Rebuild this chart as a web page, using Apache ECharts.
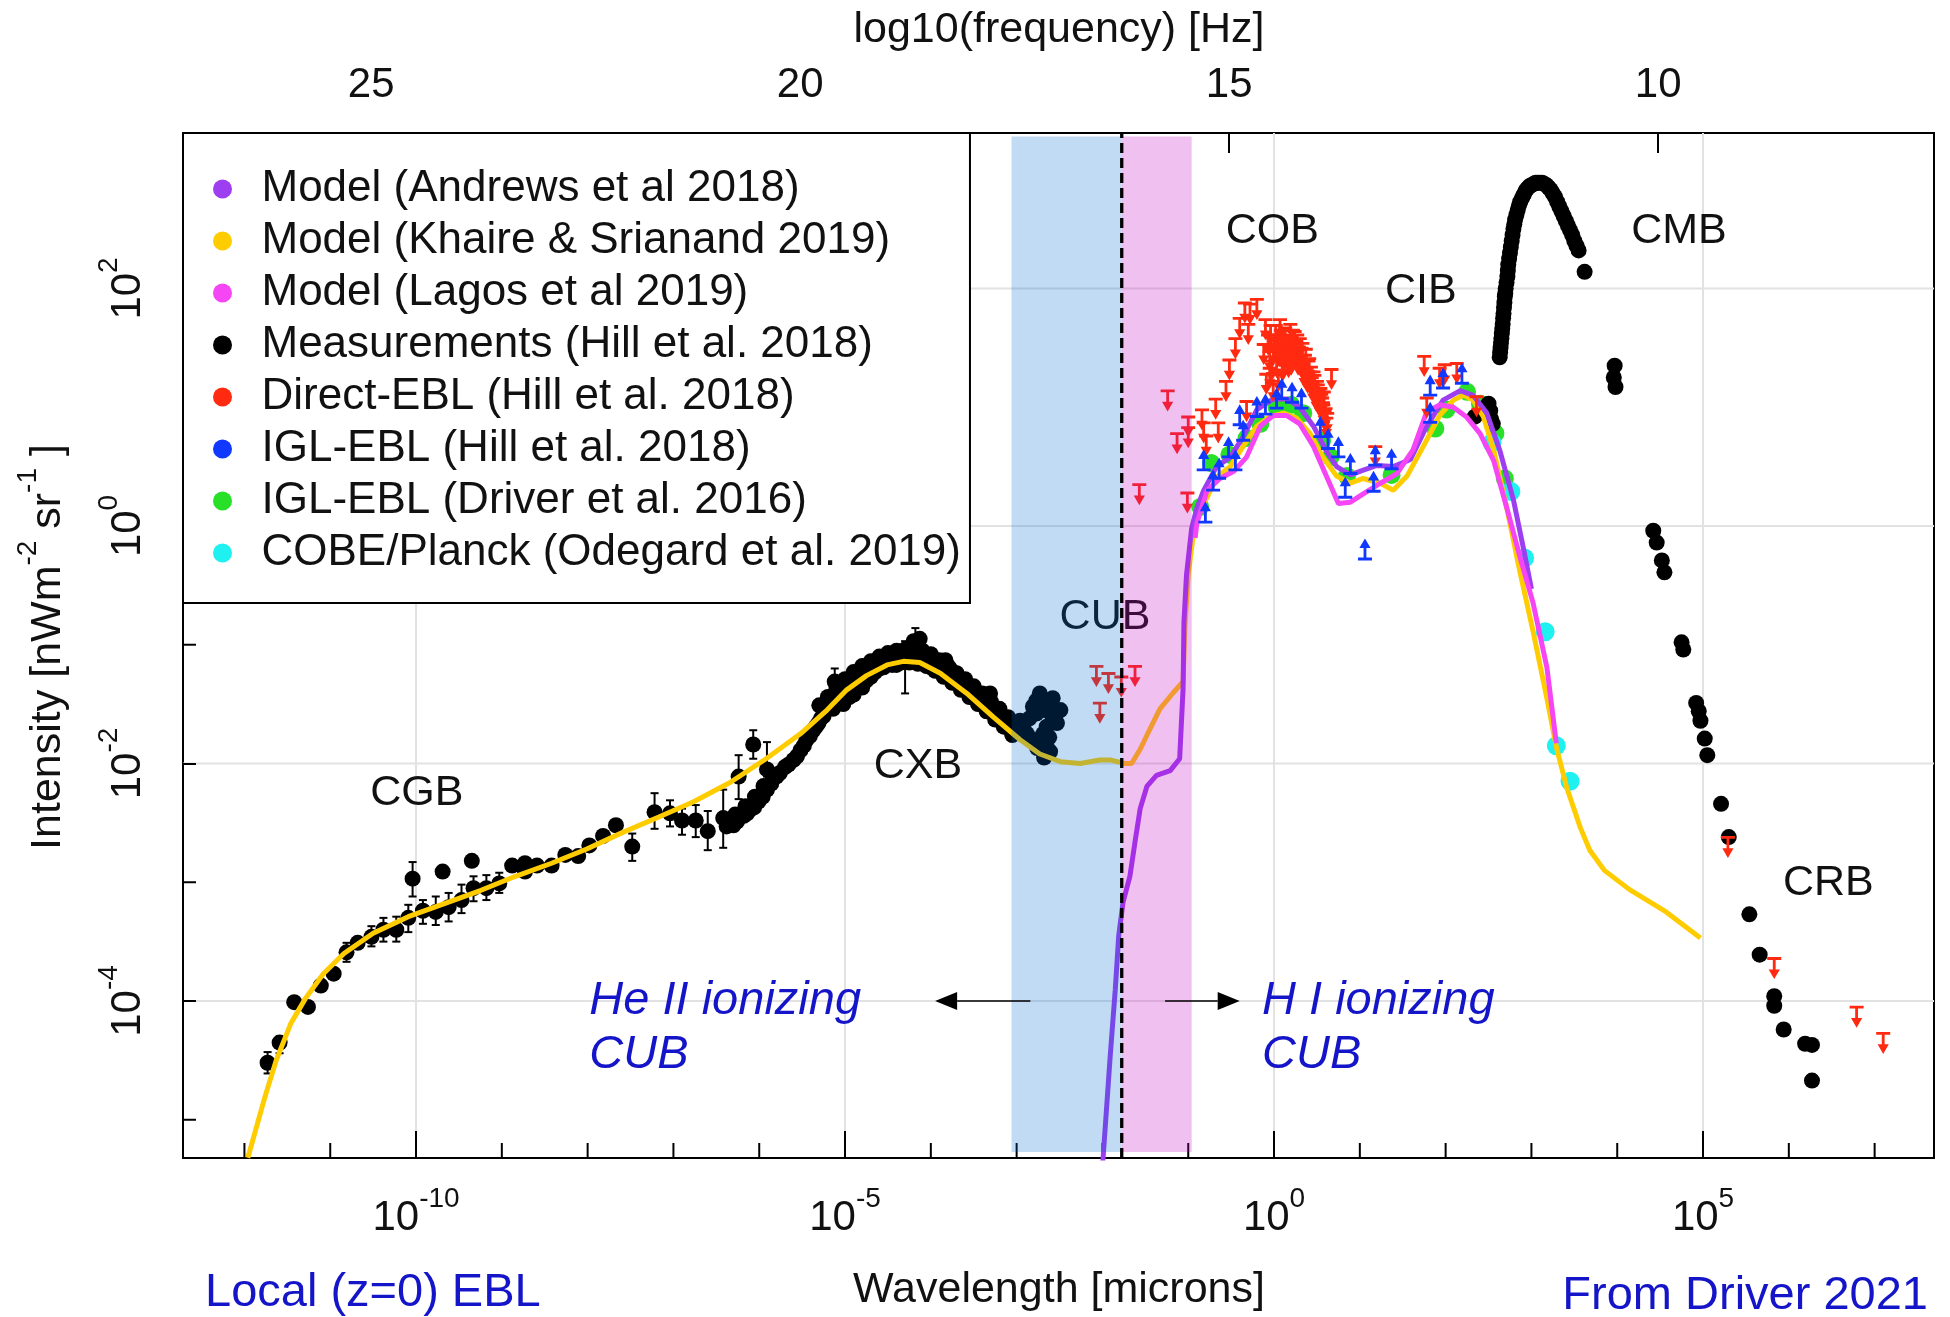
<!DOCTYPE html>
<html>
<head>
<meta charset="utf-8">
<title>Local (z=0) EBL</title>
<script src="https://cdn.jsdelivr.net/npm/echarts@6/dist/echarts.min.js"></script>
<style>
  html, body { margin: 0; padding: 0; background: #ffffff; }
  #chart { width: 1950px; height: 1317px; }
</style>
</head>
<body>
<div id="chart"></div>
<script>
// All values are [log10(wavelength / micron), log10(intensity / nW m^-2 sr^-1)].

const andrewsModel = [
  [-2.00,-5.40],[-1.91,-4.47],[-1.85,-3.90],[-1.81,-3.45],[-1.76,-3.17],[-1.68,-2.95],[-1.62,-2.66],
  [-1.56,-2.38],[-1.48,-2.19],[-1.37,-2.10],[-1.21,-2.06],[-1.10,-1.96],[-1.06,-1.37],[-1.05,-0.81],
  [-1.02,-0.41],[-0.96,-0.02],[-0.90,0.15],[-0.82,0.30],[-0.67,0.50],[-0.51,0.58],[-0.36,0.75],
  [-0.20,0.98],[-0.01,1.07],[0.15,1.07],[0.30,1.00],[0.46,0.84],[0.61,0.63],[0.73,0.50],[0.89,0.43],
  [1.04,0.47],[1.20,0.51],[1.39,0.50],[1.59,0.56],[1.78,0.84],[1.97,1.06],[2.17,1.14],[2.32,1.10],
  [2.48,0.95],[2.63,0.64],[2.79,0.22],[2.91,-0.20],[3.00,-0.53]
];

const khaireModel = [
  [-11.96,-5.32],[-11.77,-4.83],[-11.63,-4.50],[-11.46,-4.19],[-11.29,-3.98],[-11.08,-3.77],[-10.84,-3.60],
  [-10.50,-3.43],[-10.09,-3.29],[-9.67,-3.18],[-9.25,-3.07],[-8.84,-2.95],[-8.42,-2.84],[-8.01,-2.72],
  [-7.59,-2.58],[-7.17,-2.45],[-6.76,-2.32],[-6.34,-2.16],[-5.92,-1.96],[-5.52,-1.75],[-5.21,-1.55],
  [-4.98,-1.38],[-4.75,-1.26],[-4.51,-1.17],[-4.32,-1.14],[-4.13,-1.15],[-3.89,-1.24],[-3.58,-1.41],
  [-3.27,-1.61],[-2.96,-1.80],[-2.73,-1.92],[-2.49,-1.985],[-2.26,-2.00],[-2.03,-1.97],[-1.91,-1.97],
  [-1.74,-2.00],[-1.66,-2.00],[-1.56,-1.88],[-1.48,-1.76],[-1.33,-1.54],[-1.17,-1.40],[-1.06,-1.31],
  [-1.04,-0.86],[-1.00,-0.41],[-0.94,-0.07],[-0.86,0.15],[-0.78,0.24],[-0.67,0.41],[-0.51,0.50],
  [-0.36,0.67],[-0.20,0.84],[-0.05,0.92],[0.11,0.95],[0.26,0.91],[0.42,0.78],[0.57,0.58],[0.73,0.42],
  [0.89,0.36],[1.04,0.40],[1.24,0.36],[1.39,0.30],[1.55,0.42],[1.74,0.67],[1.93,0.93],[2.09,1.06],
  [2.21,1.10],[2.32,1.06],[2.44,0.92],[2.56,0.64],[2.71,0.16],[2.87,-0.40],[3.02,-0.89],[3.18,-1.45],
  [3.29,-1.86],[3.41,-2.20],[3.57,-2.54],[3.68,-2.73],[3.85,-2.90],[4.14,-3.06],[4.57,-3.25],[4.97,-3.47]
];

const lagosModel = [
  [-0.92,-0.10],[-0.90,0.02],[-0.78,0.30],[-0.63,0.40],[-0.47,0.46],[-0.32,0.58],[-0.16,0.84],
  [-0.01,0.93],[0.15,0.93],[0.30,0.86],[0.46,0.67],[0.61,0.42],[0.75,0.19],[0.89,0.20],[1.04,0.27],
  [1.24,0.36],[1.43,0.44],[1.62,0.64],[1.78,0.96],[1.93,1.02],[2.09,1.00],[2.24,0.92],[2.40,0.78],
  [2.56,0.55],[2.71,0.16],[2.87,-0.27],[3.02,-0.65],[3.18,-1.19],[3.29,-1.83]
];

const hillMeasurements = [
  // gamma rays
  [-11.73,-4.52],[-11.59,-4.35],[-11.42,-4.01],[-11.26,-4.05],[-11.11,-3.87],[-10.96,-3.77],[-10.81,-3.59],
  [-10.68,-3.51],[-10.52,-3.46],[-10.38,-3.40],[-10.23,-3.40],[-10.09,-3.30],[-10.04,-2.97],[-9.92,-3.24],
  [-9.77,-3.25],[-9.69,-2.91],[-9.62,-3.21],[-9.47,-3.15],[-9.35,-2.82],[-9.33,-3.05],[-9.18,-3.05],
  [-9.03,-3.01],[-8.88,-2.86],[-8.73,-2.84],[-8.73,-2.91],[-8.59,-2.86],[-8.42,-2.86],[-8.26,-2.77],
  [-8.11,-2.78],[-7.98,-2.69],[-7.82,-2.61],[-7.67,-2.52],[-7.48,-2.70],[-7.22,-2.41],[-7.04,-2.42],
  [-6.90,-2.48],[-6.74,-2.48],[-6.60,-2.57],[-6.42,-2.46],[-6.24,-2.11],[-6.07,-1.84],[-5.91,-2.05],
  // X-rays
  [-6.34,-2.49],[-6.22,-2.45],[-6.11,-2.39],[-6.01,-2.32],[-5.91,-2.22],[-5.80,-2.11],[-5.70,-2.03],
  [-5.60,-1.97],[-5.52,-1.89],[-5.45,-1.80],[-5.37,-1.72],[-5.31,-1.66],[-5.25,-1.55],[-5.21,-1.52],
  [-6.38,-2.53],[-6.30,-2.52],[-6.26,-2.49],[-6.18,-2.44],[-6.14,-2.42],[-6.06,-2.37],[-5.96,-2.28],
  [-5.86,-2.17],[-5.76,-2.08],[-5.66,-2.01],[-5.56,-1.94],[-5.48,-1.85],[-5.41,-1.77],[-5.34,-1.69],
  [-5.28,-1.62],[-6.28,-2.43],[-6.16,-2.36],[-6.05,-2.28],[-5.95,-2.19],[-5.85,-2.10],
  [-5.14,-1.54],[-5.12,-1.31],[-5.06,-1.43],[-5.02,-1.50],[-4.95,-1.44],[-4.90,-1.42],[-4.86,-1.34],
  [-4.80,-1.36],[-4.75,-1.30],[-4.67,-1.22],[-4.60,-1.20],[-4.55,-1.17],[-4.48,-1.13],[-4.40,-1.12],
  [-4.32,-1.09],[-4.25,-1.06],[-4.20,-0.97],[-4.13,-0.95],[-4.10,-1.05],[-4.05,-1.10],[-3.97,-1.12],
  [-3.89,-1.16],[-3.83,-1.13],[-3.78,-1.20],[-3.74,-1.23],[-3.66,-1.29],[-3.58,-1.34],[-3.50,-1.40],
  [-3.43,-1.46],[-3.37,-1.49],[-3.31,-1.41],[-3.27,-1.55],[-3.21,-1.58],[-3.16,-1.61],[-3.10,-1.66],
  [-3.04,-1.72],[-5.00,-1.45],[-4.70,-1.27],[-4.40,-1.17],[-4.00,-1.19],[-3.80,-1.27],[-3.55,-1.43],
  [-3.35,-1.55],[-3.15,-1.67],[-3.05,-1.75],
  [-5.30,-1.51],[-5.20,-1.44],[-5.10,-1.37],[-5.00,-1.29],[-4.90,-1.23],[-4.80,-1.18],[-4.70,-1.14],
  [-4.60,-1.10],[-4.50,-1.07],[-4.40,-1.05],[-4.30,-1.04],[-4.20,-1.03],[-4.10,-1.05],[-4.00,-1.08],
  [-3.90,-1.13],[-3.80,-1.18],[-3.70,-1.24],[-3.60,-1.29],[-3.50,-1.35],[-3.40,-1.41],[-3.30,-1.48],
  [-3.20,-1.54],[-3.10,-1.61],[-3.00,-1.67],
  [-5.25,-1.60],[-5.15,-1.52],[-5.05,-1.44],[-4.95,-1.37],[-4.85,-1.31],[-4.75,-1.27],[-4.65,-1.23],
  [-4.55,-1.19],[-4.45,-1.17],[-4.35,-1.15],[-4.25,-1.15],[-4.15,-1.16],[-4.05,-1.18],[-3.95,-1.22],
  [-3.85,-1.27],[-3.75,-1.32],[-3.65,-1.38],[-3.55,-1.44],[-3.45,-1.50],[-3.35,-1.56],[-3.25,-1.63],
  [-3.15,-1.69],[-3.05,-1.76],
  // extreme ultraviolet
  [-2.96,-1.64],[-2.88,-1.75],[-2.81,-1.80],[-2.81,-1.52],[-2.73,-1.41],[-2.65,-1.47],[-2.65,-1.69],
  [-2.65,-1.86],[-2.61,-1.90],[-2.53,-1.66],[-2.49,-1.55],[-2.58,-1.45],[-2.92,-1.70],[-2.85,-1.62],
  [-2.77,-1.58],[-2.70,-1.55],[-2.69,-1.75],[-2.72,-1.82],[-2.60,-1.58],[-2.55,-1.60],[-2.62,-1.78],
  [-2.68,-1.95],[-2.76,-1.87],[-2.77,-1.47],
  // far infrared / sub-mm
  [2.34,0.92],[2.50,1.03],[2.52,0.97],[2.53,0.90],[2.55,0.86],
  // microwave
  [2.63,1.42],[2.64,1.50],[2.65,1.58],[2.66,1.66],[2.67,1.75],[2.68,1.84],[2.69,1.93],[2.70,2.00],
  [2.72,2.10],[2.73,2.20],[2.75,2.30],[2.77,2.40],[2.79,2.50],[2.81,2.58],[2.84,2.66],[2.87,2.73],
  [2.91,2.79],[2.95,2.84],[3.00,2.87],[3.05,2.89],[3.10,2.89],[3.15,2.88],[3.20,2.85],[3.25,2.80],
  [3.30,2.73],[3.35,2.65],[3.40,2.57],[3.45,2.49],[3.50,2.40],[3.55,2.32],[3.62,2.14],
  [2.635,1.46],[2.645,1.54],[2.655,1.62],[2.665,1.70],[2.675,1.79],[2.685,1.88],[2.695,1.96],
  [2.71,2.05],[2.725,2.15],[2.74,2.25],[2.76,2.35],[2.78,2.45],[2.80,2.54],[2.825,2.62],[2.855,2.70],
  [2.89,2.76],[2.93,2.82],[2.975,2.86],[3.025,2.88],[3.075,2.89],[3.125,2.89],[3.175,2.87],
  [3.225,2.83],[3.275,2.77],[3.325,2.69],[3.375,2.61],[3.425,2.53],[3.475,2.45],[3.525,2.36],
  [3.97,1.35],[3.96,1.25],[3.98,1.17],[4.42,-0.04],[4.46,-0.14],[4.52,-0.29],[4.55,-0.39],
  // radio
  [4.75,-0.98],[4.77,-1.04],[4.92,-1.49],[4.95,-1.56],[4.97,-1.64],[5.02,-1.79],[5.05,-1.93],
  [5.21,-2.34],[5.30,-2.62],[5.54,-3.27],[5.66,-3.61],[5.83,-3.96],[5.83,-4.04],[5.94,-4.24],
  [6.19,-4.36],[6.27,-4.37],[6.27,-4.67]
];

// [log10(wavelength), lower end, upper end]
const hillErrorBars = [
  [-11.73,-4.61,-4.43],[-11.59,-4.44,-4.30],[-10.81,-3.67,-3.51],[-10.52,-3.54,-3.37],[-10.38,-3.50,-3.30],
  [-10.23,-3.50,-3.29],[-10.09,-3.42,-3.19],[-10.04,-3.12,-2.83],[-9.92,-3.35,-3.15],[-9.77,-3.36,-3.12],
  [-9.62,-3.33,-3.09],[-9.47,-3.26,-3.02],[-9.33,-3.16,-2.95],[-9.18,-3.15,-2.94],[-9.03,-3.09,-2.92],
  [-7.48,-2.82,-2.59],[-7.22,-2.55,-2.25],[-7.04,-2.53,-2.31],[-6.90,-2.60,-2.38],[-6.74,-2.62,-2.35],
  [-6.60,-2.73,-2.40],[-6.42,-2.71,-2.22],[-6.24,-2.30,-1.93],[-6.07,-1.96,-1.72],[-5.91,-2.11,-1.82],
  [-5.12,-1.45,-1.20],[-4.30,-1.41,-0.97],[-4.18,-0.99,-0.86]
];

// upper limits
const directEBL = [
  [-2.07,-1.17],[-1.93,-1.23],[-1.78,-1.26],[-1.62,-1.17],[-2.03,-1.48],
  [-1.57,0.36],[-1.24,1.15],[-1.13,0.79],[-1.00,0.93],[-1.00,0.84],[-1.01,0.29],[-0.84,0.99],
  [-0.82,0.88],[-0.79,0.77],[-0.68,1.08],[-0.65,0.88],[-0.56,1.23],[-0.52,1.41],[-0.45,1.59],
  [-0.40,1.76],[-0.34,1.89],[-0.28,1.88],[-0.20,1.92],[-0.30,1.71],[-0.32,1.06],[-0.10,1.75],
  [-0.12,1.54],[-0.09,1.29],[-0.05,1.48],[-0.01,1.54],[0.03,1.43],[0.07,1.75],[0.09,1.59],[0.11,1.48],
  [0.13,1.68],[0.15,1.54],[0.17,1.43],[0.19,1.71],[0.21,1.59],[0.23,1.50],[0.24,1.65],[0.26,1.57],
  [0.28,1.45],[0.30,1.59],[0.32,1.51],[0.34,1.40],[0.36,1.45],[0.38,1.34],[0.40,1.40],[0.42,1.31],
  [0.44,1.26],[0.46,1.31],[0.48,1.20],[0.50,1.23],[0.52,1.15],[0.54,1.17],[0.56,1.09],[0.575,1.03],
  [0.59,0.98],[0.61,0.92],[0.67,1.33],[-0.05,1.34],[-0.01,1.23],[0.05,1.31],
  [0.00,1.62],[0.02,1.70],[0.06,1.52],[0.08,1.66],[0.10,1.40],[0.12,1.60],[0.14,1.50],[0.16,1.62],
  [0.18,1.52],[0.20,1.45],[0.22,1.66],[0.25,1.50],[0.27,1.62],[0.29,1.52],[0.31,1.44],[0.33,1.55],
  [0.35,1.35],[0.37,1.50],[0.39,1.30],[0.41,1.42],[0.43,1.35],[0.45,1.22],[0.47,1.28],[0.49,1.15],
  [0.51,1.20],[0.53,1.10],[0.55,1.12],[0.57,1.05],[0.58,1.14],[0.60,1.00],[0.62,0.96],[-0.03,1.40],
  [-0.07,1.62],[-0.04,1.70],[0.04,1.58],
  [1.18,0.68],[1.75,1.44],[1.93,1.34],[1.99,1.37],[2.13,1.38],[1.78,1.09],[2.36,1.10],
  [5.29,-2.61],[5.83,-3.63],[6.79,-4.04],[7.10,-4.26]
];

// lower limits
const iglHill = [
  [-0.82,0.46],[-0.80,0.02],[-0.71,0.29],[-0.64,0.39],[-0.53,0.57],[-0.45,0.46],[-0.40,0.84],
  [-0.36,0.71],[-0.20,0.91],[-0.10,0.93],[0.03,0.98],[0.09,1.06],[0.21,1.03],[0.32,0.98],[0.54,0.74],
  [0.63,0.64],[0.75,0.57],[0.89,0.43],[0.83,0.23],[1.18,0.50],[1.16,0.28],[1.37,0.47],[1.82,0.86],
  [1.82,1.09],[1.97,1.15],[2.19,1.19],[1.06,-0.29]
];

const iglDriver = [
  [-0.86,0.16],[-0.73,0.53],[-0.52,0.60],[-0.32,0.74],[-0.16,0.86],[0.03,1.00],[0.20,1.02],[0.34,0.95],
  [0.56,0.72],[0.66,0.58],[0.85,0.42],[1.37,0.43],[1.88,0.82],[2.01,0.98],[2.25,1.13],[2.40,1.03],
  [2.58,0.78],[2.69,0.40]
];

const cobePlanck = [
  [2.54,0.70],[2.76,0.29],[2.92,-0.27],[3.16,-0.89],[3.29,-1.85],[3.45,-2.15]
];

// ionizing wavelength ranges and the edge between them
const heIIRange = [-3.06, -1.775];
const hIRange = [-1.775, -0.96];
const ionizingEdge = -1.775;

const regionLabels = [
  [-9.99,-2.25,'CGB'],[-4.15,-2.02,'CXB'],[-0.02,2.48,'COB'],[1.71,1.98,'CIB'],
  [4.72,2.48,'CMB'],[6.46,-3.01,'CRB'],[-1.97,-0.77,'CUB']
];
const ionizingNotes = [[-7.98,-4.23,'He II ionizing\nCUB'],[-0.14,-4.23,'H I ionizing\nCUB']];
// [tail, head, level]
const ionizingArrows = [[-2.84,-3.95,-4.0],[-1.27,-0.40,-4.0]];

const wavelengthMajorTicks = [-10,-5,0,5];
const wavelengthMinorTicks = [-12,-11,-9,-8,-7,-6,-4,-3,-2,-1,1,2,3,4,6,7];
const frequencyTicks = [10,15,20,25];
const intensityMajorTicks = [-4,-2,0,2];
const intensityMinorTicks = [-5,-3,-1,1,3];

const LOG_C = 14.4768;  // log10 of the speed of light in micron/s
const X_MIN = -12.716, X_MAX = 7.692;
const Y_MIN = -5.322, Y_MAX = 3.309;

const FONT = '"Liberation Sans", Arial, Helvetica, sans-serif';
const INK = '#111111';

function expLabel(v) {
  const e = v < 0 ? '-' + (-v) : String(v);
  return '{b|10}{e|' + e + '}';
}
const powRich = {
  b: { fontSize: 42, lineHeight: 54, verticalAlign: 'bottom', color: INK, fontFamily: FONT },
  e: { fontSize: 28, lineHeight: 22, verticalAlign: 'top', color: INK, fontFamily: FONT }
};

const upperLimitSymbol = 'path://M0,0H12V2.6H0Z M4.8,2.6H7.2V12.5H4.8Z M1.2,11.2H10.8L6,20Z';
const lowerLimitSymbol = 'path://M6,0L10.8,8.8H1.2Z M4.8,7.5H7.2V17.4H4.8Z M0,17.4H12V20H0Z';

const chart = echarts.init(document.getElementById('chart'), null, { renderer: 'canvas' });

function lineSeg(p0, p1, stroke, width, dash) {
  return { type: 'line', shape: { x1: p0[0], y1: p0[1], x2: p1[0], y2: p1[1] },
           style: { stroke: stroke, lineWidth: width, lineDash: dash || null } };
}

const series = [
  // background grid
  {
    type: 'custom', name: 'gridX', z: 0, silent: true,
    data: wavelengthMajorTicks.map(v => [v, 0]),
    renderItem: (params, api) => lineSeg(api.coord([api.value(0), Y_MIN]), api.coord([api.value(0), Y_MAX]), '#e2e2e2', 2)
  },
  {
    type: 'custom', name: 'gridY', z: 0, silent: true,
    data: intensityMajorTicks.map(v => [0, v]),
    renderItem: (params, api) => lineSeg(api.coord([X_MIN, api.value(1)]), api.coord([X_MAX, api.value(1)]), '#e2e2e2', 2)
  },
  // unlabeled decade ticks
  {
    type: 'custom', name: 'minorX', z: 1, silent: true,
    data: wavelengthMinorTicks.map(v => [v, 0]),
    renderItem: (params, api) => {
      const p = api.coord([api.value(0), Y_MIN]);
      return lineSeg(p, [p[0], p[1] - 15], '#000', 2);
    }
  },
  {
    type: 'custom', name: 'minorY', z: 1, silent: true,
    data: intensityMinorTicks.map(v => [0, v]),
    renderItem: (params, api) => {
      const p = api.coord([X_MIN, api.value(1)]);
      return lineSeg(p, [p[0] + 13, p[1]], '#000', 2);
    }
  },
  {
    name: 'IGL-EBL (Driver et al. 2016)', type: 'scatter', z: 2,
    data: iglDriver, symbol: 'circle', symbolSize: 18,
    itemStyle: { color: '#27e027', opacity: 1 }
  },
  {
    name: 'COBE/Planck (Odegard et al. 2019)', type: 'scatter', z: 2,
    data: cobePlanck, symbol: 'circle', symbolSize: 19,
    itemStyle: { color: '#1ff0f0', opacity: 1 }
  },
  {
    type: 'custom', name: 'errorBars', z: 3, silent: true,
    data: hillErrorBars,
    renderItem: (params, api) => {
      const lo = api.coord([api.value(0), api.value(1)]);
      const hi = api.coord([api.value(0), api.value(2)]);
      return { type: 'group', children: [
        lineSeg(lo, hi, '#000', 2),
        lineSeg([lo[0] - 4, lo[1]], [lo[0] + 4, lo[1]], '#000', 2),
        lineSeg([hi[0] - 4, hi[1]], [hi[0] + 4, hi[1]], '#000', 2)
      ] };
    }
  },
  {
    name: 'Measurements (Hill et al. 2018)', type: 'scatter', z: 3,
    data: hillMeasurements, symbol: 'circle', symbolSize: 16,
    itemStyle: { color: '#000000', opacity: 1 }
  },
  {
    name: 'Model (Khaire & Srianand 2019)', type: 'line', z: 4,
    data: khaireModel, showSymbol: false, symbol: 'none',
    itemStyle: { color: '#ffcc00' }, lineStyle: { color: '#ffcc00', width: 5 }
  },
  {
    name: 'Model (Andrews et al 2018)', type: 'line', z: 5,
    data: andrewsModel, showSymbol: false, symbol: 'none',
    itemStyle: { color: '#9d3ff0' }, lineStyle: { color: '#9d3ff0', width: 5 }
  },
  {
    name: 'Model (Lagos et al 2019)', type: 'line', z: 6,
    data: lagosModel, showSymbol: false, symbol: 'none',
    itemStyle: { color: '#f545f5' }, lineStyle: { color: '#f545f5', width: 5 }
  },
  {
    name: 'Direct-EBL (Hill et al. 2018)', type: 'scatter', z: 7,
    data: directEBL, symbol: upperLimitSymbol, symbolSize: [14, 22], symbolOffset: [0, '50%'],
    itemStyle: { color: '#ff2a10', opacity: 1 }
  },
  {
    name: 'IGL-EBL (Hill et al. 2018)', type: 'scatter', z: 8,
    data: iglHill, symbol: lowerLimitSymbol, symbolSize: [14, 22], symbolOffset: [0, '-50%'],
    itemStyle: { color: '#1038ff', opacity: 1 }
  },
  // band labels
  {
    type: 'custom', name: 'labels', z: 9, silent: true,
    data: regionLabels.map(d => [d[0], d[1]]),
    renderItem: (params, api) => {
      const p = api.coord([api.value(0), api.value(1)]);
      return { type: 'text', x: p[0], y: p[1],
               style: { text: regionLabels[params.dataIndex][2], font: '43px ' + FONT, fill: INK,
                        align: 'center', verticalAlign: 'middle' } };
    }
  },
  // ionizing bands, drawn translucent over the data
  {
    type: 'custom', name: 'bands', z: 10, silent: true,
    data: [
      { value: heIIRange, itemStyle: { color: 'rgba(0,105,210,0.24)' } },
      { value: hIRange, itemStyle: { color: 'rgba(196,4,196,0.25)' } }
    ],
    renderItem: (params, api) => {
      const p0 = api.coord([api.value(0), Y_MAX - 0.03]);
      const p1 = api.coord([api.value(1), Y_MIN + 0.05]);
      return { type: 'rect', shape: { x: p0[0], y: p0[1], width: p1[0] - p0[0], height: p1[1] - p0[1] },
               style: { fill: api.visual('color') } };
    }
  },
  {
    type: 'custom', name: 'edge', z: 11, silent: true,
    data: [[ionizingEdge, 0]],
    renderItem: (params, api) => lineSeg(api.coord([api.value(0), Y_MIN]), api.coord([api.value(0), Y_MAX]), '#000', 3.3, [10, 5])
  },
  {
    type: 'custom', name: 'arrows', z: 11, silent: true,
    data: ionizingArrows,
    renderItem: (params, api) => {
      const a = api.coord([api.value(0), api.value(2)]);
      const b = api.coord([api.value(1), api.value(2)]);
      const dir = b[0] > a[0] ? 1 : -1;
      const base = b[0] - dir * 22;
      return { type: 'group', children: [
        lineSeg(a, [base, b[1]], '#000', 1.6),
        { type: 'polygon', shape: { points: [[b[0], b[1]], [base, b[1] - 9], [base, b[1] + 9]] },
          style: { fill: '#000' } }
      ] };
    }
  },
  {
    type: 'custom', name: 'notes', z: 11, silent: true,
    data: ionizingNotes.map(d => [d[0], d[1]]),
    renderItem: (params, api) => {
      const p = api.coord([api.value(0), api.value(1)]);
      return { type: 'text', x: p[0], y: p[1],
               style: { text: ionizingNotes[params.dataIndex][2], font: 'italic 47px ' + FONT,
                        fill: '#1414c8', align: 'left', verticalAlign: 'middle', lineHeight: 54 } };
    }
  }
];

const option = {
  animation: false,
  backgroundColor: '#ffffff',
  textStyle: { fontFamily: FONT },
  grid: { left: 183, right: 16, top: 133, bottom: 159, show: true,
          borderColor: '#000', borderWidth: 2, backgroundColor: 'transparent' },
  xAxis: [
    {
      type: 'value', min: X_MIN, max: X_MAX, position: 'bottom',
      axisLine: { show: false, onZero: false },
      axisTick: { show: true, inside: true, length: 27, customValues: wavelengthMajorTicks,
                  lineStyle: { color: '#000', width: 2 } },
      axisLabel: { show: true, customValues: wavelengthMajorTicks, margin: 27,
                   formatter: expLabel, rich: powRich },
      splitLine: { show: false }
    },
    {
      type: 'value', min: LOG_C - X_MAX, max: LOG_C - X_MIN, inverse: true, position: 'top',
      axisLine: { show: false, onZero: false },
      axisTick: { show: true, inside: true, length: 20, customValues: frequencyTicks,
                  lineStyle: { color: '#000', width: 2 } },
      axisLabel: { show: true, customValues: frequencyTicks, margin: 27,
                   fontSize: 42, color: INK, fontFamily: FONT },
      splitLine: { show: false }
    }
  ],
  yAxis: [
    {
      type: 'value', min: Y_MIN, max: Y_MAX,
      axisLine: { show: false, onZero: false },
      axisTick: { show: true, inside: true, length: 13, customValues: intensityMajorTicks,
                  lineStyle: { color: '#000', width: 2 } },
      axisLabel: { show: true, customValues: intensityMajorTicks, rotate: 90, margin: 34,
                   formatter: expLabel, rich: powRich },
      splitLine: { show: false }
    }
  ],
  legend: {
    orient: 'vertical', left: 183, top: 133,
    padding: [34, 9, 28, 30], itemGap: 8, itemWidth: 68, itemHeight: 19,
    icon: 'circle', selectedMode: false,
    backgroundColor: '#ffffff', borderColor: '#000', borderWidth: 2, borderRadius: 0,
    textStyle: { fontSize: 44, lineHeight: 44, color: INK, fontFamily: FONT },
    data: [
      'Model (Andrews et al 2018)',
      'Model (Khaire & Srianand 2019)',
      'Model (Lagos et al 2019)',
      'Measurements (Hill et al. 2018)',
      'Direct-EBL (Hill et al. 2018)',
      'IGL-EBL (Hill et al. 2018)',
      'IGL-EBL (Driver et al. 2016)',
      'COBE/Planck (Odegard et al. 2019)'
    ],
    z: 20
  },
  graphic: [
    { type: 'text', x: 1059, y: 30, silent: true,
      style: { text: 'log10(frequency) [Hz]', font: '43px ' + FONT, fill: INK, align: 'center', verticalAlign: 'middle' } },
    { type: 'text', x: 1059, y: 1290, silent: true,
      style: { text: 'Wavelength [microns]', font: '43px ' + FONT, fill: INK, align: 'center', verticalAlign: 'middle' } },
    { type: 'text', x: 205, y: 1293, silent: true,
      style: { text: 'Local (z=0) EBL', font: '47px ' + FONT, fill: '#1414c8', align: 'left', verticalAlign: 'middle' } },
    { type: 'text', x: 1928, y: 1296, silent: true,
      style: { text: 'From Driver 2021', font: '47px ' + FONT, fill: '#1414c8', align: 'right', verticalAlign: 'middle' } },
    { type: 'text', x: 42, y: 647, rotation: Math.PI / 2, silent: true,
      style: {
        text: '{n|Intensity [nWm}{s|-2}{n| sr}{s|-1}{n| ]}',
        align: 'center', verticalAlign: 'middle',
        rich: {
          n: { fontSize: 43, lineHeight: 56, verticalAlign: 'bottom', fill: INK, fontFamily: FONT },
          s: { fontSize: 28, lineHeight: 22, verticalAlign: 'top', fill: INK, fontFamily: FONT }
        }
      } }
  ],
  series: series
};

chart.setOption(option);
</script>
</body>
</html>
